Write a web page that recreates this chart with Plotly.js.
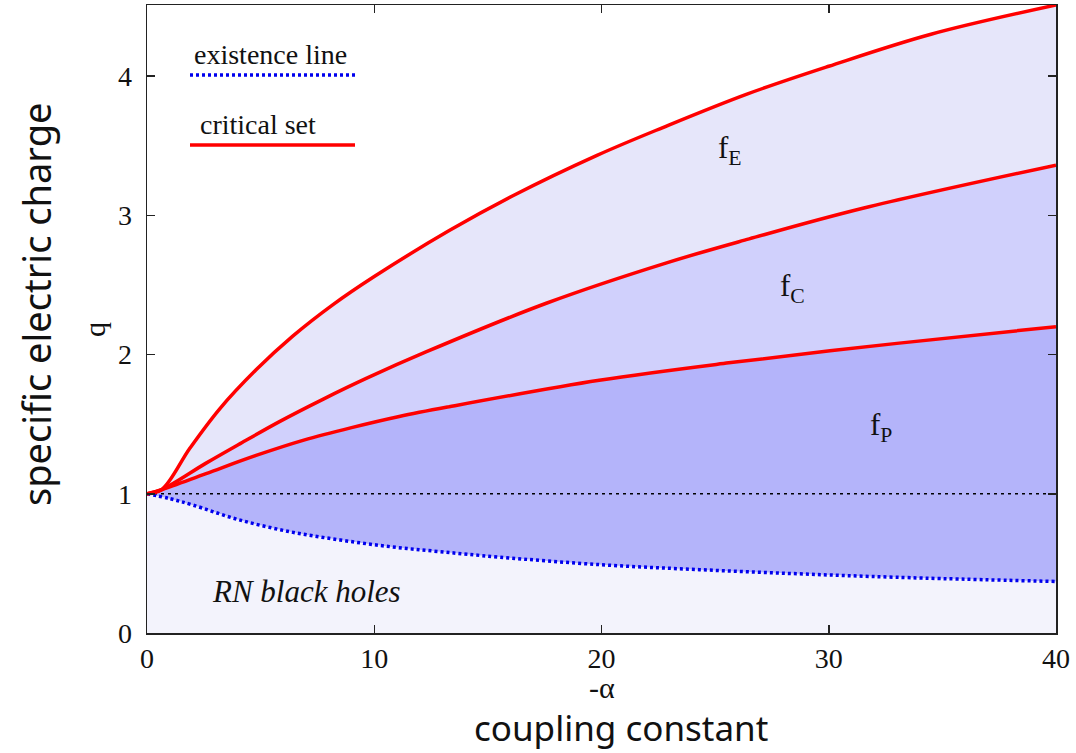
<!DOCTYPE html>
<html>
<head>
<meta charset="utf-8">
<script src="https://cdn.plot.ly/plotly-3.0.1.min.js"></script>
<style>html,body{margin:0;padding:0;background:#fff;}#chart{width:1076px;height:753px;}</style>
</head>
<body>
<div id="chart"></div>
<script>
// -alpha values and q values
var existX = [0, 1, 2, 4, 6.3, 8.5, 10.7, 12.9, 15.5, 20, 24.3, 28.7, 33, 40];
var existQ = [1, 0.965, 0.92, 0.815, 0.727, 0.668, 0.62, 0.584, 0.545, 0.49, 0.455, 0.425, 0.40, 0.37];

var fpX = [0, 0.65, 2.6, 4.8, 6.9, 9, 11.1, 13.3, 19.9, 25.6, 33, 40];
var fpQ = [1, 1.03, 1.145, 1.275, 1.385, 1.475, 1.555, 1.625, 1.815, 1.94, 2.08, 2.20];

var fcX = [0, 0.65, 2.6, 4.1, 5.85, 7.76, 9.67, 12.3, 17.6, 22.9, 26.5, 31.5, 40];
var fcQ = [1, 1.03, 1.22, 1.36, 1.52, 1.68, 1.83, 2.02, 2.37, 2.66, 2.83, 3.05, 3.36];

var feX = [0, 0.65, 1.9, 3.2, 4.8, 6.4, 8.2, 10, 13.3, 16.1, 19.8, 22.7, 26.4, 30, 34.5, 40];
var feQ = [1, 1.03, 1.33, 1.61, 1.89, 2.13, 2.36, 2.56, 2.89, 3.14, 3.43, 3.63, 3.87, 4.07, 4.30, 4.51];

var refX = [0, 40];
var refQ = [1, 1];

var xTicks = [0, 10, 20, 30, 40];
var yTicks = [0, 1, 2, 3, 4];

var serif = 'Liberation Serif, Times New Roman, serif';
var sans = 'Noto Sans, sans-serif';
var sm = 1.0;

var traces = [
  {x: existX, y: existQ, mode: 'lines', line: {width: 0, shape: 'spline', smoothing: sm}, fill: 'tozeroy', fillcolor: '#f3f3fc', hoverinfo: 'skip', showlegend: false},
  {x: fpX, y: fpQ, mode: 'lines', line: {width: 0, shape: 'spline', smoothing: sm}, fill: 'tonexty', fillcolor: '#b4b4fa', hoverinfo: 'skip', showlegend: false},
  {x: fcX, y: fcQ, mode: 'lines', line: {width: 0, shape: 'spline', smoothing: sm}, fill: 'tonexty', fillcolor: '#d0d0fc', hoverinfo: 'skip', showlegend: false},
  {x: feX, y: feQ, mode: 'lines', line: {width: 0, shape: 'spline', smoothing: sm}, fill: 'tonexty', fillcolor: '#e6e6fa', hoverinfo: 'skip', showlegend: false},
  {x: refX, y: refQ, mode: 'lines', line: {color: '#000', width: 1.5, dash: '3px,4px'}, showlegend: false},
  {x: existX, y: existQ, mode: 'lines', line: {color: '#0000ee', width: 3.5, dash: '3px,3px', shape: 'spline', smoothing: sm}, showlegend: false},
  {x: fpX, y: fpQ, mode: 'lines', line: {color: '#ff0000', width: 3.5, shape: 'spline', smoothing: sm}, showlegend: false},
  {x: fcX, y: fcQ, mode: 'lines', line: {color: '#ff0000', width: 3.5, shape: 'spline', smoothing: sm}, showlegend: false},
  {x: feX, y: feQ, mode: 'lines', line: {color: '#ff0000', width: 3.5, shape: 'spline', smoothing: sm}, showlegend: false}
];

function px(x) { return (x - 147) / 909; }
function py(y) { return (633 - y) / 628; }

var layout = {
  width: 1076, height: 753,
  margin: {l: 147, r: 20, t: 5, b: 120},
  paper_bgcolor: '#fff', plot_bgcolor: '#fff',
  showlegend: false,
  xaxis: {
    range: [0, 40], tickvals: xTicks, ticktext: xTicks.map(String),
    ticks: 'inside', ticklen: 8, tickwidth: 1.5, tickcolor: '#222',
    showline: true, linecolor: '#222', linewidth: 1.5, mirror: 'ticks',
    showgrid: false, zeroline: false,
    tickfont: {family: serif, size: 28, color: '#111'}, ticklabelstandoff: 0
  },
  yaxis: {
    range: [0, 4.51], tickvals: yTicks, ticktext: yTicks.map(String),
    ticks: 'inside', ticklen: 8, tickwidth: 1.5, tickcolor: '#222',
    showline: true, linecolor: '#222', linewidth: 1.5, mirror: 'ticks',
    showgrid: false, zeroline: false,
    tickfont: {family: serif, size: 28, color: '#111'}, ticklabelstandoff: 8
  },
  shapes: [
    {type: 'line', xref: 'paper', yref: 'paper', x0: px(190), x1: px(355), y0: py(75), y1: py(75),
     line: {color: '#0000ee', width: 3.5, dash: '3px,3px'}},
    {type: 'line', xref: 'paper', yref: 'paper', x0: px(190), x1: px(355), y0: py(145), y1: py(145),
     line: {color: '#ff0000', width: 3.5}}
  ],
  annotations: [
    {xref: 'paper', yref: 'paper', x: px(192), y: py(55), xanchor: 'left', yanchor: 'middle', showarrow: false,
     text: 'existence line', font: {family: serif, size: 28, color: '#111'}},
    {xref: 'paper', yref: 'paper', x: px(198), y: py(125), xanchor: 'left', yanchor: 'middle', showarrow: false,
     text: 'critical set', font: {family: serif, size: 28, color: '#111'}},
    {x: 25.65, y: 3.47, xanchor: 'center', yanchor: 'middle', showarrow: false, text: 'f<sub>E</sub>', font: {family: serif, size: 31, color: '#111'}},
    {x: 28.4, y: 2.48, xanchor: 'center', yanchor: 'middle', showarrow: false, text: 'f<sub>C</sub>', font: {family: serif, size: 31, color: '#111'}},
    {x: 32.3, y: 1.48, xanchor: 'center', yanchor: 'middle', showarrow: false, text: 'f<sub>P</sub>', font: {family: serif, size: 31, color: '#111'}},
    {x: 7.0, y: 0.295, xanchor: 'center', yanchor: 'middle', showarrow: false, text: '<i>RN black holes</i>', font: {family: serif, size: 31, color: '#111'}},
    {xref: 'paper', yref: 'paper', x: px(602), y: py(687), xanchor: 'center', yanchor: 'middle', showarrow: false,
     text: '-α', font: {family: serif, size: 30, color: '#111'}},
    {xref: 'paper', yref: 'paper', x: px(621), y: py(727), xanchor: 'center', yanchor: 'middle', showarrow: false,
     text: 'coupling constant', font: {family: sans, size: 35, color: '#111'}},
    {xref: 'paper', yref: 'paper', x: px(95), y: py(330), xanchor: 'center', yanchor: 'middle', showarrow: false, textangle: -90,
     text: 'q', font: {family: serif, size: 30, color: '#111'}},
    {xref: 'paper', yref: 'paper', x: px(36), y: py(305), xanchor: 'center', yanchor: 'middle', showarrow: false, textangle: -90,
     text: 'specific electric charge', font: {family: sans, size: 38, color: '#111'}}
  ]
};

Plotly.newPlot('chart', traces, layout, {displayModeBar: false, staticPlot: true});
</script>
</body>
</html>
